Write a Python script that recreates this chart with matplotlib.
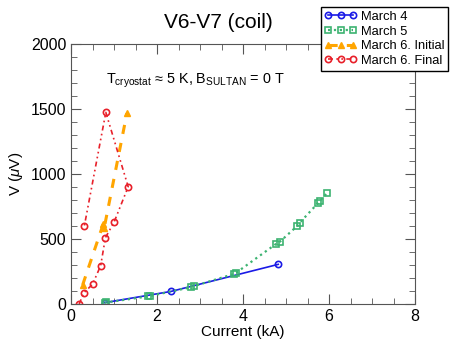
import matplotlib
matplotlib.use("Agg")
import matplotlib.pyplot as plt
from matplotlib.ticker import MultipleLocator

plt.rcParams['font.family'] = ['Liberation Sans', 'DejaVu Sans']
plt.rcParams['mathtext.fontset'] = 'custom'
plt.rcParams['mathtext.rm'] = 'Liberation Sans'
plt.rcParams['mathtext.it'] = 'Liberation Sans:italic'

# March 4
m4_x = [0.78, 2.33, 4.82]
m4_y = [10, 97, 305]
# March 5
m5_x = [0.78, 0.82, 1.78, 1.84, 2.78, 2.86, 3.78, 3.84, 4.76, 4.86, 5.26, 5.32, 5.74, 5.78, 5.96]
m5_y = [10, 12, 58, 62, 128, 138, 230, 240, 460, 480, 600, 625, 775, 790, 855]
# March 6 Initial
m6i_x = [0.27, 0.75, 0.77, 1.30]
m6i_y = [146, 615, 582, 1467]
# March 6 Final
m6f_x = [0.19, 0.30, 0.50, 0.69, 0.80, 1.00, 1.33, 0.81, 0.31]
m6f_y = [0, 87, 151, 295, 510, 628, 902, 1474, 600]

fig = plt.figure(figsize=(4.5, 3.46), dpi=100)
ax = fig.add_axes([71/450, 1-304/346, (415-71)/450, (304-44)/346])

blue = '#1a1ae6'
green = '#3cb371'
orange = '#ffa500'
red = '#e8202a'

ax.plot(m4_x, m4_y, '-', color=blue, lw=1.2, marker='o', ms=4.5, mfc='none', mew=1.2, label='March 4')
ax.plot(m5_x, m5_y, ':', color=green, lw=1.6, marker='s', ms=4.5, mfc='none', mew=1.2, label='March 5')
ax.plot(m6i_x, m6i_y, '--', color=orange, lw=2.2, marker='^', ms=4.5, mfc=orange, mew=1.0, dashes=(3, 3), label='March 6. Initial')
ax.plot(m6f_x, m6f_y, color=red, lw=1.2, marker='o', ms=4.5, mfc='none', mew=1.2,
        dashes=(3, 2, 1, 2, 1, 2), label='March 6. Final')

ax.set_xlim(0, 8)
ax.set_ylim(0, 2000)
ax.xaxis.set_major_locator(MultipleLocator(2))
ax.xaxis.set_minor_locator(MultipleLocator(0.5))
ax.yaxis.set_major_locator(MultipleLocator(500))
ax.yaxis.set_minor_locator(MultipleLocator(100))
ax.tick_params(which='both', direction='in', top=True, right=True, labelsize=11.5, color='#555555')
ax.tick_params(which='major', length=7)
ax.tick_params(which='minor', length=4)
for s in ax.spines.values():
    s.set_color('#555555')

ax.set_xlabel('Current (kA)', fontsize=11, labelpad=1)
ax.set_ylabel(r'V ($\mu$V)', fontsize=11)
fig.text(218/450, 1-22/346, 'V6-V7 (coil)', ha='center', va='center', fontsize=15)

ax.text(0.81, 1720, r'T$_{\rm cryostat}$ ≈ 5 K, B$_{\rm SULTAN}$ = 0 T', fontsize=10.4, va='center')

leg = fig.legend(loc='upper right', bbox_to_anchor=(448/450, 1-7/346), fontsize=9.3, numpoints=3,
                 handlelength=2.5, handletextpad=0.3, borderpad=0.3, labelspacing=0.2,
                 borderaxespad=0.0, fancybox=False, framealpha=1, edgecolor='black')

fig.savefig('out.png', dpi=100)
